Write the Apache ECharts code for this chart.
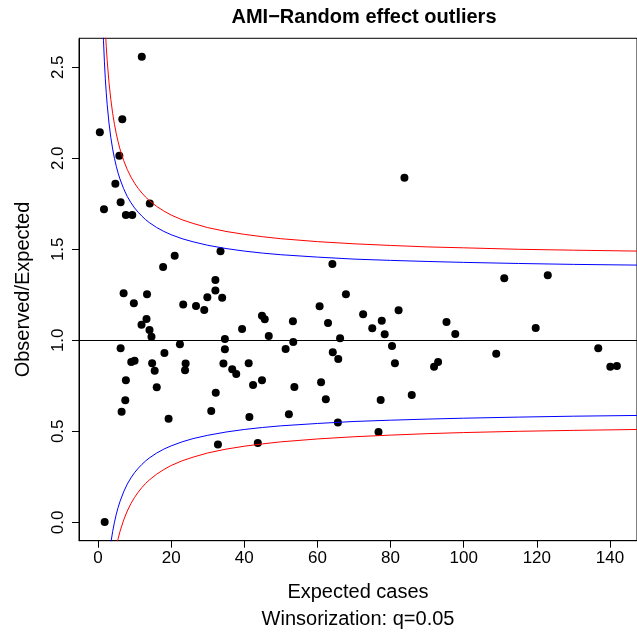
<!DOCTYPE html>
<html>
<head>
<meta charset="utf-8">
<script src="https://cdn.jsdelivr.net/npm/echarts@6/dist/echarts.min.js"></script>
<style>
html,body{margin:0;padding:0;background:#fff;}
#chart{width:637px;height:638px;}
</style>
</head>
<body>
<div id="chart"></div>
<script>
// Observed points (expected cases, observed/expected ratio)
const expectedCases = [0.5,1.63,1.82,4.74,5.83,6.18,6.64,7.62,9.37,11.97,14.16,17.8,20.97,33.5,32.1,32.1,7.0,13.4,9.8,23.3,26.8,29.05,29.9,33.95,13.26,11.9,14.08,14.62,39.4,44.84,45.6,46.7,34.7,22.4,6.18,18.16,34.7,9.09,10.0,14.8,15.5,23.96,23.8,34.3,36.7,37.8,41.2,7.62,16.06,42.4,44.84,32.2,7.46,6.45,19.3,30.96,41.4,32.8,43.7,83.8,64.1,67.8,60.6,53.3,62.9,72.5,75.0,77.6,78.4,82.2,95.3,66.2,53.4,51.3,64.2,65.7,80.4,81.2,91.9,93.0,53.7,61.0,62.3,77.3,85.8,52.2,65.6,76.7,111.1,123.0,97.7,119.7,108.9,136.8,140.1,141.9];
const observedRatio = [2.143,1.720,0.002,1.860,2.014,1.758,2.214,1.688,1.688,2.558,1.751,1.403,1.465,1.489,1.331,1.273,1.258,1.253,1.203,1.196,1.188,1.166,1.236,1.234,1.117,1.086,1.057,1.020,1.062,1.135,1.115,1.024,1.007,0.978,0.956,0.930,0.951,0.881,0.888,0.874,0.833,0.872,0.835,0.872,0.841,0.815,0.874,0.780,0.742,0.754,0.780,0.712,0.670,0.608,0.569,0.612,0.579,0.427,0.436,1.893,1.419,1.253,1.187,1.104,1.095,1.143,1.066,1.108,1.033,1.165,1.100,1.011,0.991,0.952,0.934,0.897,0.969,0.874,0.855,0.881,0.743,0.769,0.676,0.672,0.699,0.593,0.549,0.496,1.341,1.357,1.035,1.068,0.926,0.956,0.855,0.859];

// Control limit curves
const limitE = [1.3,1.5,1.75,2,2.25,2.5,3,3.5,4,4.5,5,5.5,6,7,8,9,10,11,12,13,14,16,18,20,23,26,30,35,40,45,50,60,70,80,90,100,115,130,147.4];
const blueUpper = [2.761,2.645,2.530,2.437,2.361,2.297,2.194,2.114,2.051,1.999,1.955,1.918,1.886,1.833,1.790,1.756,1.727,1.703,1.682,1.663,1.647,1.620,1.598,1.580,1.558,1.541,1.522,1.504,1.490,1.479,1.470,1.457,1.446,1.439,1.433,1.428,1.422,1.417,1.413];
const blueLower = [-0.761,-0.645,-0.530,-0.437,-0.361,-0.297,-0.194,-0.114,-0.051,0.001,0.045,0.082,0.114,0.167,0.210,0.244,0.273,0.297,0.318,0.337,0.353,0.380,0.402,0.420,0.442,0.460,0.478,0.496,0.510,0.521,0.530,0.543,0.554,0.561,0.567,0.572,0.578,0.583,0.587];
const redUpper = [3.089,2.952,2.815,2.706,2.615,2.539,2.417,2.323,2.247,2.186,2.134,2.090,2.051,1.988,1.938,1.897,1.863,1.834,1.809,1.787,1.768,1.736,1.710,1.688,1.662,1.642,1.619,1.598,1.582,1.569,1.558,1.542,1.530,1.521,1.513,1.508,1.500,1.495,1.490];
const redLower = [-1.089,-0.952,-0.815,-0.706,-0.615,-0.539,-0.417,-0.323,-0.247,-0.186,-0.134,-0.090,-0.051,0.012,0.062,0.103,0.137,0.166,0.191,0.213,0.232,0.264,0.290,0.312,0.338,0.358,0.381,0.402,0.418,0.431,0.442,0.458,0.470,0.479,0.487,0.493,0.500,0.505,0.510];

const xTicks = [0,20,40,60,80,100,120,140];
const yTicks = [0,0.5,1,1.5,2,2.5];
const referenceRatio = 1;

const FONT = '"Liberation Sans", Arial, Helvetica, sans-serif';
const zip = (xs, ys) => xs.map((x, i) => [x, ys[i]]);

const chart = echarts.init(document.getElementById('chart'), null, {renderer: 'canvas'});
const lineSeries = (data, color) => ({
  type: 'line', data: data, showSymbol: false, symbol: 'none', clip: true,
  lineStyle: {color: color, width: 1}, silent: true, animation: false, z: 3
});

chart.setOption({
  animation: false,
  backgroundColor: '#fff',
  title: {
    text: 'AMI\u2212Random effect outliers',
    left: 359, top: 2, textAlign: 'center',
    textStyle: {fontFamily: FONT, fontWeight: 'bold', fontSize: 20, color: '#000'}
  },
  grid: {left: 79, top: 38.3, right: -2.7, bottom: 97.3, show: true, borderColor: '#000', borderWidth: 1, containLabel: false},
  xAxis: {
    type: 'value', min: -5.2, max: 147.4,
    name: 'Expected cases\nWinsorization: q=0.05',
    nameLocation: 'middle', nameGap: 38,
    nameTextStyle: {fontFamily: FONT, fontSize: 20, color: '#000', lineHeight: 27, verticalAlign: 'top'},
    axisLine: {show: true, onZero: false, lineStyle: {color: '#000', width: 1}},
    axisTick: {show: true, inside: false, length: 7, customValues: xTicks, lineStyle: {color: '#000'}},
    axisLabel: {show: true, customValues: xTicks, margin: 9, fontFamily: FONT, fontSize: 17, color: '#000'},
    splitLine: {show: false}
  },
  yAxis: {
    type: 'value', min: -0.101, max: 2.659,
    name: 'Observed/Expected',
    nameLocation: 'middle', nameRotate: 90, nameGap: 46,
    nameTextStyle: {fontFamily: FONT, fontSize: 20, color: '#000'},
    axisLine: {show: true, onZero: false, lineStyle: {color: '#000', width: 1}},
    axisTick: {show: true, inside: false, length: 7, customValues: yTicks, lineStyle: {color: '#000'}},
    axisLabel: {show: true, customValues: yTicks, rotate: 90, margin: 12, fontFamily: FONT, fontSize: 17, color: '#000',
      formatter: v => v.toFixed(1)},
    splitLine: {show: false}
  },
  series: [
    {
      type: 'scatter', data: zip(expectedCases, observedRatio),
      symbol: 'circle', symbolSize: 8, itemStyle: {color: '#000', opacity: 1}, z: 2,
      markLine: {
        silent: true, symbol: 'none', animation: false,
        label: {show: false},
        lineStyle: {color: '#000', width: 1, type: 'solid', opacity: 1},
        data: [{yAxis: referenceRatio}]
      }
    },
    lineSeries(zip(limitE, blueUpper), '#0000FF'),
    lineSeries(zip(limitE, blueLower), '#0000FF'),
    lineSeries(zip(limitE, redUpper), '#FF0000'),
    lineSeries(zip(limitE, redLower), '#FF0000')
  ]
});
</script>
</body>
</html>
